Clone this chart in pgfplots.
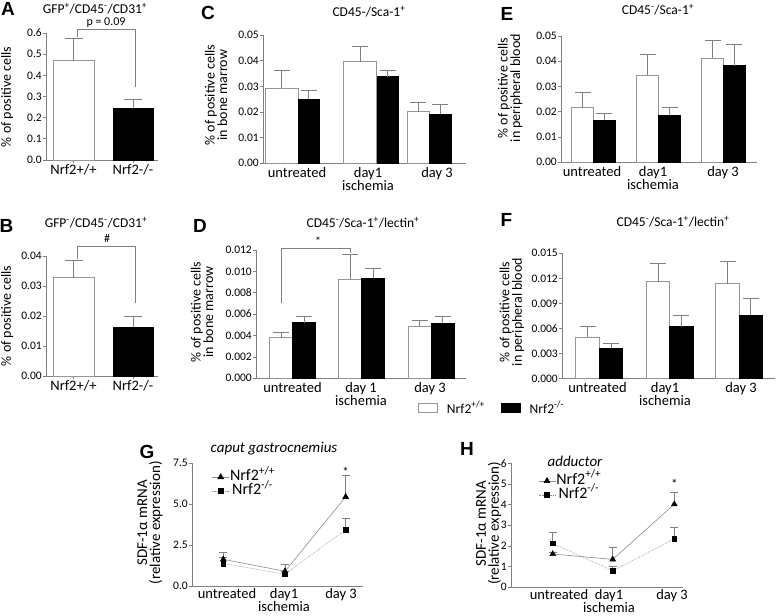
\documentclass[border=0pt]{standalone}
\usepackage{fontspec}
\setmainfont{Carlito}
\newfontfamily\arialfont{Liberation Sans}
\usepackage{pgfplots}
\pgfplotsset{compat=1.18}
\newcommand{\fs}[2]{\fontsize{#1}{#2}\selectfont}
\newcommand{\pl}{\textsuperscript{+}}
\newcommand{\mi}{\textsuperscript{-}}
\definecolor{axgray}{RGB}{128,128,128}
\definecolor{bargray}{RGB}{150,150,150}
\definecolor{lgray}{RGB}{140,140,140}
\pgfplotsset{
  panel/.style={
    scale only axis, anchor=south west, clip=false,
    axis x line*=bottom, axis y line*=left,
    axis line style={draw=axgray, line width=0.8pt, -},
    tick style={draw=axgray, line width=0.8pt},
    tick align=outside, major tick length=3pt,
    enlargelimits=false, ymin=0,
    scaled y ticks=false,
    /pgf/number format/assume math mode=true,
    yticklabel style={font=\fs{11.5}{12}, inner xsep=1pt, /pgf/number format/fixed, /pgf/number format/fixed zerofill, /pgf/number format/precision=2},
    xticklabel style={font=\fs{14.5}{13}, align=center, inner ysep=1pt},
    ylabel style={font=\fs{14}{12.5}, align=center, anchor=center},
  },
  nox/.style={major x tick style={draw=none}},
  eb/.style={error bars/.cd, y dir=plus, y explicit,
    error bar style={draw=axgray, line width=0.8pt, solid},
    error mark options={rotate=90, draw=axgray, line width=0.8pt, mark size=#1, solid}},
  barleg/.style={legend image code/.code={\draw[##1] (0pt,-4.5pt) rectangle (19pt,4.5pt);}},
  wb/.style={ybar, bar shift=0pt, bar width=#1, fill=white, draw=bargray, line width=0.8pt, barleg},
  bb/.style={ybar, bar shift=0pt, bar width=#1, fill=black, draw=black, line width=0.8pt, barleg},
  tri/.style={color=lgray, line width=0.6pt, solid, mark=triangle*, mark size=3.3pt, mark options={fill=black, draw=black, solid}},
  sq/.style={color=lgray, line width=0.6pt, densely dotted, mark=square*, mark size=2.4pt, mark options={fill=black, draw=black, solid}},
  lineleg/.style={legend style={anchor=north west, draw=none, fill=none,
    inner sep=0pt, row sep=1.5pt, nodes={inner sep=0.5pt, text height=9pt, text depth=2.5pt}, font=\fs{16}{16}}},
  lineylab/.style={ylabel style={font=\fs{15}{13}}},
}
\begin{document}
\begin{tikzpicture}[x=1pt,y=1pt]
\path[use as bounding box] (0,0) rectangle (777,616);

% panel letters
\begin{scope}[every node/.style={font=\arialfont\bfseries\fs{19}{19}, inner sep=0pt}]
\node at (8,607.5) {A};
\node at (6.5,390.5) {B};
\node at (208,603.5) {C};
\node at (200,390) {D};
\node at (507,602.5) {E};
\node at (506.5,396.5) {F};
\node at (147,164) {G};
\node at (467,167) {H};
\end{scope}

% titles
\begin{scope}[every node/.style={font=\fs{13.5}{14}, inner sep=0pt}]
\node at (95,607.5) {GFP\pl/CD45\mi/CD31\pl};
\node at (96,393) {GFP\mi/CD45\mi/CD31\pl};
\node at (369,604) {CD45-/Sca-1\pl};
\node at (363,393) {CD45\mi/Sca-1\pl/lectin\pl};
\node at (658,606) {CD45\mi/Sca-1\pl};
\node at (673,394) {CD45\mi/Sca-1\pl/lectin\pl};
\node[font=\itshape\fs{15}{15}] at (274,167) {caput gastrocnemius};
\node[font=\itshape\fs{15}{15}] at (575,155) {adductor};
\end{scope}

% ---------- A ----------
\begin{axis}[panel, at={(46pt,456pt)}, width=112pt, height=127pt,
  xmin=46, xmax=158, ymax=0.6,
  ytick={0,0.1,0.2,0.3,0.4,0.5,0.6}, yticklabel style={/pgf/number format/precision=1},
  xtick={73.5,133}, xticklabels={Nrf2+/+,Nrf2-/-},
  ylabel={\% of positive cells}, ylabel style={at={(axis description cs:-0.348,0.496)}}]
\addplot[wb=41, eb=9pt] coordinates {(73.5,0.47) +- (0,0.105)};
\addplot[bb=40, eb=9pt] coordinates {(133,0.245) +- (0,0.04)};
\draw[axgray, line width=0.8pt] (axis cs:77,0.58) -- (axis cs:77,0.617) -- (axis cs:135,0.617) -- (axis cs:135,0.346);
\node[font=\fs{12}{12}, inner sep=0pt] at (axis cs:106,0.648) {p = 0.09};
\end{axis}

% ---------- B ----------
\begin{axis}[panel, at={(46pt,240pt)}, width=112pt, height=120pt,
  xmin=46, xmax=158, ymax=0.04,
  ytick={0,0.01,0.02,0.03,0.04},
  xtick={73.5,133}, xticklabels={Nrf2+/+,Nrf2-/-},
  ylabel={\% of positive cells}, ylabel style={at={(axis description cs:-0.348,0.5)}}]
\addplot[wb=41, eb=9pt] coordinates {(73.5,0.0328) +- (0,0.0058)};
\addplot[bb=40, eb=9pt] coordinates {(133,0.0163) +- (0,0.0034)};
\draw[axgray, line width=0.8pt] (axis cs:77,0.039) -- (axis cs:77,0.0433) -- (axis cs:135,0.0433) -- (axis cs:135,0.0242);
\node[font=\fs{12}{12}] at (axis cs:107,0.0457) {\#};
\end{axis}

% ---------- C ----------
\begin{axis}[panel, nox, at={(263pt,452.7pt)}, width=203pt, height=128.3pt,
  xmin=263, xmax=466, ymax=0.05,
  ytick={0,0.01,0.02,0.03,0.04,0.05},
  xtick={297,368,437}, xticklabels={untreated,day1\\ischemia,day 3},
  ylabel={\% of positive cells\\in bone marrow}, ylabel style={at={(axis description cs:-0.2315,0.532)}}]
\addplot[wb=33, eb=8pt] coordinates {(281.5,0.0292) +- (0,0.0069) (360,0.0396) +- (0,0.0058)};
\addplot[wb=22, eb=8pt] coordinates {(418,0.0201) +- (0,0.0037)};
\addplot[bb=21, eb=8pt] coordinates {(308.5,0.0249) +- (0,0.0034) (387.5,0.0337) +- (0,0.0024)};
\addplot[bb=22, eb=8pt] coordinates {(440,0.0191) +- (0,0.0039)};
\end{axis}

% ---------- D ----------
\begin{axis}[panel, nox, at={(256pt,237.7pt)}, width=210pt, height=128.3pt,
  xmin=256, xmax=466, ymax=0.012,
  ytick={0,0.002,0.004,0.006,0.008,0.010,0.012}, yticklabel style={/pgf/number format/precision=3},
  xtick={292.5,361,430}, xticklabels={untreated,day 1\\ischemia,day 3},
  ylabel={\% of positive cells\\in bone marrow}, ylabel style={at={(axis description cs:-0.257,0.517)}},
  legend style={at={(axis description cs:0.757,-0.231)}, anchor=west, draw=none, fill=none,
    legend columns=2, font=\fs{13.5}{13},
    /tikz/every odd column/.append style={column sep=7pt},
    /tikz/every even column/.append style={column sep=14pt}}]
\addplot[wb=23, eb=8pt] coordinates {(281,0.0038) +- (0,0.00046) (350.2,0.00928) +- (0,0.00231) (419.5,0.00489) +- (0,0.00056)};
\addlegendentry{Nrf2\textsuperscript{+/+}}
\addplot[bb=23, eb=8pt] coordinates {(304.2,0.0052) +- (0,0.00062) (373,0.00935) +- (0,0.00089) (442.5,0.00514) +- (0,0.00068)};
\addlegendentry{Nrf2\textsuperscript{-/-}}
\draw[axgray, line width=0.8pt] (axis cs:281.7,0.0070) -- (axis cs:281.7,0.01216) -- (axis cs:350,0.01216) -- (axis cs:350,0.0117);
\node[font=\fs{12}{12}] at (axis cs:318,0.0128) {*};
\end{axis}

% ---------- E ----------
\begin{axis}[panel, nox, at={(561pt,453.7pt)}, width=196pt, height=126.3pt,
  xmin=561, xmax=757, ymax=0.05,
  ytick={0,0.01,0.02,0.03,0.04,0.05},
  xtick={592,653,723}, xticklabels={untreated,day1\\ischemia,day 3},
  ylabel={\% of positive cells\\in peripheral blood}, ylabel style={at={(axis description cs:-0.26,0.588)}}]
\addplot[wb=21.7, eb=8pt] coordinates {(582.5,0.0216) +- (0,0.0061) (647.7,0.0344) +- (0,0.0083) (712.5,0.0411) +- (0,0.0070)};
\addplot[bb=21.7, eb=8pt] coordinates {(604.2,0.0167) +- (0,0.0027) (669.5,0.0187) +- (0,0.0029) (734.2,0.0382) +- (0,0.0084)};
\end{axis}

% ---------- F ----------
\begin{axis}[panel, nox, at={(562pt,237.3pt)}, width=213pt, height=125.4pt,
  xmin=562, xmax=775, ymax=0.015,
  ytick={0,0.003,0.006,0.009,0.012,0.015}, yticklabel style={/pgf/number format/precision=3},
  xtick={597.5,665,741}, xticklabels={untreated,day1\\ischemia,day 3},
  ylabel={\% of positive cells\\in peripheral blood}, ylabel style={at={(axis description cs:-0.235,0.532)}}]
\addplot[wb=23.5, eb=8pt] coordinates {(587.5,0.00496) +- (0,0.00124) (658,0.0116) +- (0,0.00216) (727.5,0.01136) +- (0,0.00268)};
\addplot[bb=23.5, eb=8pt] coordinates {(611,0.00364) +- (0,0.00056) (681.3,0.00624) +- (0,0.00128) (750.8,0.0076) +- (0,0.00196)};
\end{axis}

% ---------- G ----------
\begin{axis}[panel, nox, lineleg, lineylab, at={(192pt,30pt)}, width=171.3pt, height=122.7pt,
  xmin=192, xmax=363.3, ymax=7.5,
  ytick={0,2.5,5,7.5}, yticklabel style={/pgf/number format/precision=1},
  xtick={227,284,341}, xticklabels={untreated,day1\\ischemia,day 3},
  xticklabel style={inner ysep=0pt, yshift=1pt},
  ylabel={SDF-1α mRNA\\(relative expression)}, ylabel style={at={(axis description cs:-0.245,0.515)}},
  legend style={at={(axis description cs:0.115,0.94)}}]
\addplot[tri, eb=4pt] coordinates {(223.3,1.63) +- (0,0.42) (285,0.90) +- (0,0.45) (345.7,5.45) +- (0,1.30)};
\addlegendentry{Nrf2\textsuperscript{+/+}}
\addplot[sq, eb=4pt] coordinates {(223.3,1.38) +- (0,0.35) (285,0.72) +- (0,0.20) (345.7,3.45) +- (0,0.70)};
\addlegendentry{Nrf2\textsuperscript{-/-}}
\node[font=\fs{13}{13}] at (axis cs:345.7,7.0) {*};
\end{axis}

% ---------- H ----------
\begin{axis}[panel, nox, lineleg, lineylab, at={(511pt,28.7pt)}, width=172pt, height=124pt,
  xmin=511, xmax=683, ymax=6,
  ytick={0,1,2,3,4,5,6}, yticklabel style={/pgf/number format/precision=0},
  xtick={559,609,672}, xticklabels={untreated,day1\\ischemia,day 3},
  xticklabel style={inner ysep=0pt, yshift=1pt},
  ylabel={SDF-1α mRNA\\(relative expression)}, ylabel style={at={(axis description cs:-0.13,0.515)}},
  legend style={at={(axis description cs:0.157,0.91)}}]
\addplot[tri, eb=4pt] coordinates {(552.7,1.61) +- (0,0.10) (612.7,1.35) +- (0,0.59) (674.3,4.02) +- (0,0.57)};
\addlegendentry{Nrf2\textsuperscript{+/+}}
\addplot[sq, eb=4pt] coordinates {(552.7,2.13) +- (0,0.53) (612.7,0.80) +- (0,0.22) (674.3,2.34) +- (0,0.57)};
\addlegendentry{Nrf2\textsuperscript{-/-}}
\node[font=\fs{13}{13}] at (axis cs:674.3,5.0) {*};
\end{axis}
\end{tikzpicture}
\end{document}
